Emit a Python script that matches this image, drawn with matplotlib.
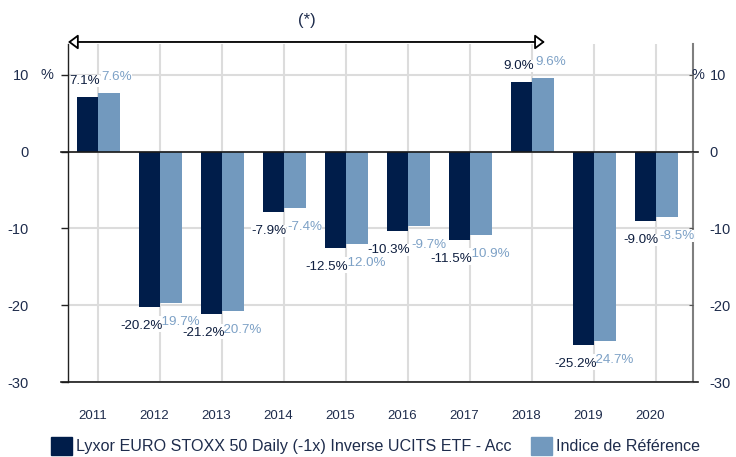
import matplotlib
matplotlib.use('Agg')
from matplotlib import pyplot as plt
from matplotlib.patches import Patch
from matplotlib.transforms import ScaledTranslation
import numpy as np

plt.rcParams['font.family'] = ['Liberation Sans', 'DejaVu Sans']

years = ['2011', '2012', '2013', '2014', '2015', '2016', '2017', '2018', '2019', '2020']
fund = [7.1, -20.2, -21.2, -7.9, -12.5, -10.3, -11.5, 9.0, -25.2, -9.0]
index = [7.6, -19.7, -20.7, -7.4, -12.0, -9.7, -10.9, 9.6, -24.7, -8.5]
fund_name = 'Lyxor EURO STOXX 50 Daily (-1x) Inverse UCITS ETF - Acc'
index_name = 'Indice de Référence'
yticks = [10, 0, -10, -20, -30]

dark = '#001d4a'
light = '#7299be'
dark_txt = '#0e1e3f'
light_txt = '#7da1c6'
axis_txt = '#1e2c4c'
grid_c = '#dcdcdc'

fig = plt.figure(figsize=(7.36, 4.57), dpi=100)
ax = fig.add_axes([0.0924, 0.1641, 0.8492, 0.7396])

x = np.arange(len(years))
w = 0.35
ax.bar(x - w / 2, fund, w, color=dark, zorder=3)
ax.bar(x + w / 2, index, w, color=light, zorder=3)

ax.set_xlim(-0.49, 9.59)
ax.set_ylim(-30, 14)
ax.set_xticks(x)
ax.set_xticklabels(years, fontsize=9.5, color=axis_txt)
ax.tick_params(axis='x', length=0, pad=20)
off = ScaledTranslation(-6 / 100, 0, fig.dpi_scale_trans)
for lab in ax.get_xticklabels():
    lab.set_transform(lab.get_transform() + off)

ax.set_yticks(yticks)
ax.set_yticklabels([str(t) for t in yticks], fontsize=10.5, color=axis_txt)
ax.tick_params(axis='y', direction='out', length=5, width=1, color='#222222', pad=23)
ax.grid(True, color=grid_c, lw=1.5, zorder=0)

for s in ['top', 'bottom']:
    ax.spines[s].set_visible(False)
ax.spines['left'].set_color('#222222')
ax.spines['left'].set_linewidth(1)
ax.spines['right'].set_color('#7f7f7f')
ax.spines['right'].set_linewidth(1.5)

# right axis
ax2 = ax.twinx()
ax2.set_ylim(ax.get_ylim())
ax2.set_yticks(yticks)
ax2.set_yticklabels([str(t) for t in yticks], fontsize=10.5, color=axis_txt)
ax2.tick_params(axis='y', direction='in', length=3, color='#555555', pad=12)
for s in ['top', 'bottom', 'left', 'right']:
    ax2.spines[s].set_visible(False)

# zero line and bottom line
for yv in [0, -30]:
    ax.plot([-0.011, 1.008], [yv, yv], transform=ax.get_yaxis_transform(),
            color='#1a1a1a', lw=1.2, zorder=4, clip_on=False)

ax.text(-0.034, 10, '%', transform=ax.get_yaxis_transform(), ha='center', va='center',
        fontsize=10.5, color=axis_txt)
ax.text(1.008, 10, '%', transform=ax.get_yaxis_transform(), ha='center', va='center',
        fontsize=10.5, color=axis_txt, zorder=6)

# value labels (dark ones sit on top and hide the overlap)
box = dict(boxstyle='square,pad=0', fc='white', ec='none')
for i in range(len(years)):
    for val, col, side, z in [(index[i], light_txt, 'left', 5), (fund[i], dark_txt, 'right', 6)]:
        txt = '%.1f%%' % val
        dy = 11.5 if val > 0 else -13.7
        if side == 'right':
            dx = 1.45
        else:
            dx = 1.8 if len(txt) < 6 else -2.2
        ax.annotate(txt, xy=(x[i], val), xytext=(dx, dy), textcoords='offset points',
                    ha=side, va='center', fontsize=9.6, color=col, bbox=box, zorder=z)

# arrow and note at top
ax.annotate('', xy=(0.0, 1.006), xytext=(0.763, 1.006), xycoords='axes fraction',
            arrowprops=dict(arrowstyle='<|-|>,head_length=0.6,head_width=0.45',
                            fc='white', ec='black', lw=1.3, shrinkA=0, shrinkB=0),
            annotation_clip=False)
fig.text(307 / 736, 1 - 20 / 457, '(*)', ha='center', va='center', fontsize=12, color=axis_txt)

handles = [Patch(color=dark), Patch(color=light)]
fig.legend(handles, [fund_name, index_name], loc='lower center', bbox_to_anchor=(0.51, -0.014),
           ncol=2, frameon=False, fontsize=11.6, handlelength=1.3, handleheight=1.4,
           handletextpad=0.25, columnspacing=1.2, borderpad=0, labelcolor=axis_txt)

fig.savefig('out.png', dpi=100)
